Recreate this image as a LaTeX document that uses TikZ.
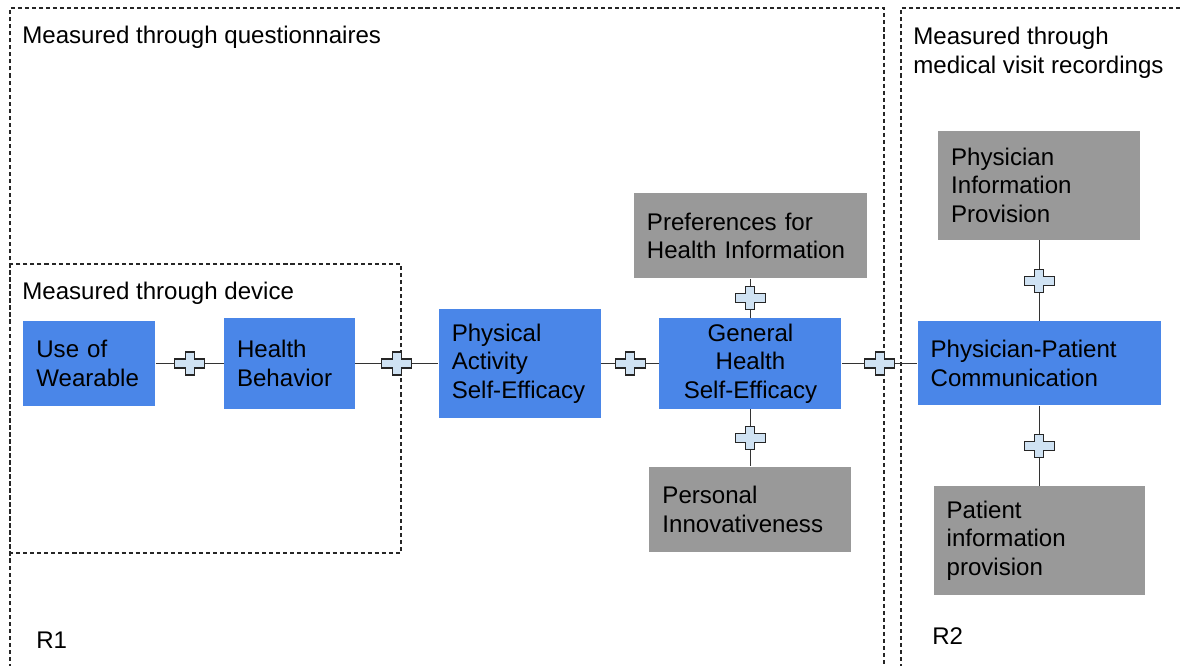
\documentclass[tikz,border=0pt]{standalone}
\usepackage{fontspec}
\setmainfont{Liberation Sans}
\usetikzlibrary{positioning}

\definecolor{boxblue}{HTML}{4A86E8}
\definecolor{boxgray}{HTML}{999999}
\definecolor{plusfill}{HTML}{CFE2F3}
\definecolor{lineclr}{HTML}{333333}

\begin{document}
\begin{tikzpicture}[
  every node/.style={font=\fontsize{13.7pt}{16.3pt}\selectfont, text=black},
  construct/.style={fill=boxblue, align=left, inner xsep=0.26cm, inner ysep=0pt},
  moderator/.style={fill=boxgray, align=left, inner xsep=0.26cm, inner ysep=0pt},
  frame/.style={draw=black!85, line width=0.6pt, dash pattern=on 2.3pt off 1.7pt},
  link/.style={draw=lineclr, line width=0.6pt},
  plusmark/.pic={
    \draw[fill=plusfill, draw=black!85, line width=0.6pt]
      (-0.3,-0.09) -- (-0.09,-0.09) -- (-0.09,-0.23) -- (0.09,-0.23) -- (0.09,-0.09) -- (0.3,-0.09)
      -- (0.3,0.09) -- (0.09,0.09) -- (0.09,0.23) -- (-0.09,0.23) -- (-0.09,0.09) -- (-0.3,0.09) -- cycle;
  }
]
  \clip (0,0) rectangle (23.64,-13.32);
  \fill[white] (0,0) rectangle (23.64,-13.32);

  % dashed measurement frames
  \draw[frame] (0.20,-13.5) |- (17.68,-0.16) -- (17.68,-13.5);
  \draw[frame] (18.02,-13.5) |- (23.9,-0.16);
  \draw[frame] (0.20,-5.28) rectangle (8.02,-11.06);

  \node[anchor=base west, inner sep=0pt] (qlabel) at (0.44,-0.88) {Measured through questionnaires};
  \node[anchor=base west, inner sep=0pt] (dlabel) at (0.44,-6.00) {Measured through device};
  \node[anchor=north west, inner sep=0pt, align=left] (rlabel) at (18.26,-0.54) {Measured through\\medical visit recordings};
  \node[anchor=base west, inner sep=0pt] (rone) at (0.72,-12.96) {R1};
  \node[anchor=base west, inner sep=0pt] (rtwo) at (18.64,-12.90) {R2};

  % main chain
  \node[construct, text width=2.12cm, minimum height=1.70cm, anchor=west] (wear) at (0.46,-7.27) {Use of\\Wearable};
  \node[construct, text width=2.10cm, minimum height=1.82cm, right=1.36cm of wear] (behav) {Health\\Behavior};
  \node[construct, text width=2.72cm, minimum height=2.18cm, right=1.66cm of behav] (pase) {Physical\\Activity\\Self-Efficacy};
  \node[construct, text width=3.12cm, minimum height=1.82cm, right=1.16cm of pase, align=center] (ghse) {General\\Health\\Self-Efficacy};
  \node[construct, text width=4.34cm, minimum height=1.68cm, right=1.51cm of ghse] (ppc) {Physician-Patient\\Communication};

  % moderators
  \node[moderator, text width=4.14cm, minimum height=1.70cm, above=0.78cm of ghse] (prefs) {Preferences for\\Health Information};
  \node[moderator, text width=3.52cm, minimum height=1.70cm, below=1.14cm of ghse] (innov) {Personal\\Innovativeness};
  \node[moderator, text width=3.52cm, minimum height=2.18cm, above=1.62cm of ppc] (docinfo) {Physician\\Information\\Provision};
  \node[moderator, text width=3.70cm, minimum height=2.18cm, below=1.60cm of ppc] (patinfo) {Patient\\information\\provision};

  \foreach \a/\b in {wear/behav, behav/pase, pase/ghse, ghse/ppc, prefs/ghse, ghse/innov, docinfo/ppc, ppc/patinfo} {
    \draw[link] (\a) -- coordinate (m) (\b);
    \pic at (m) {plusmark};
  }
\end{tikzpicture}
\end{document}
